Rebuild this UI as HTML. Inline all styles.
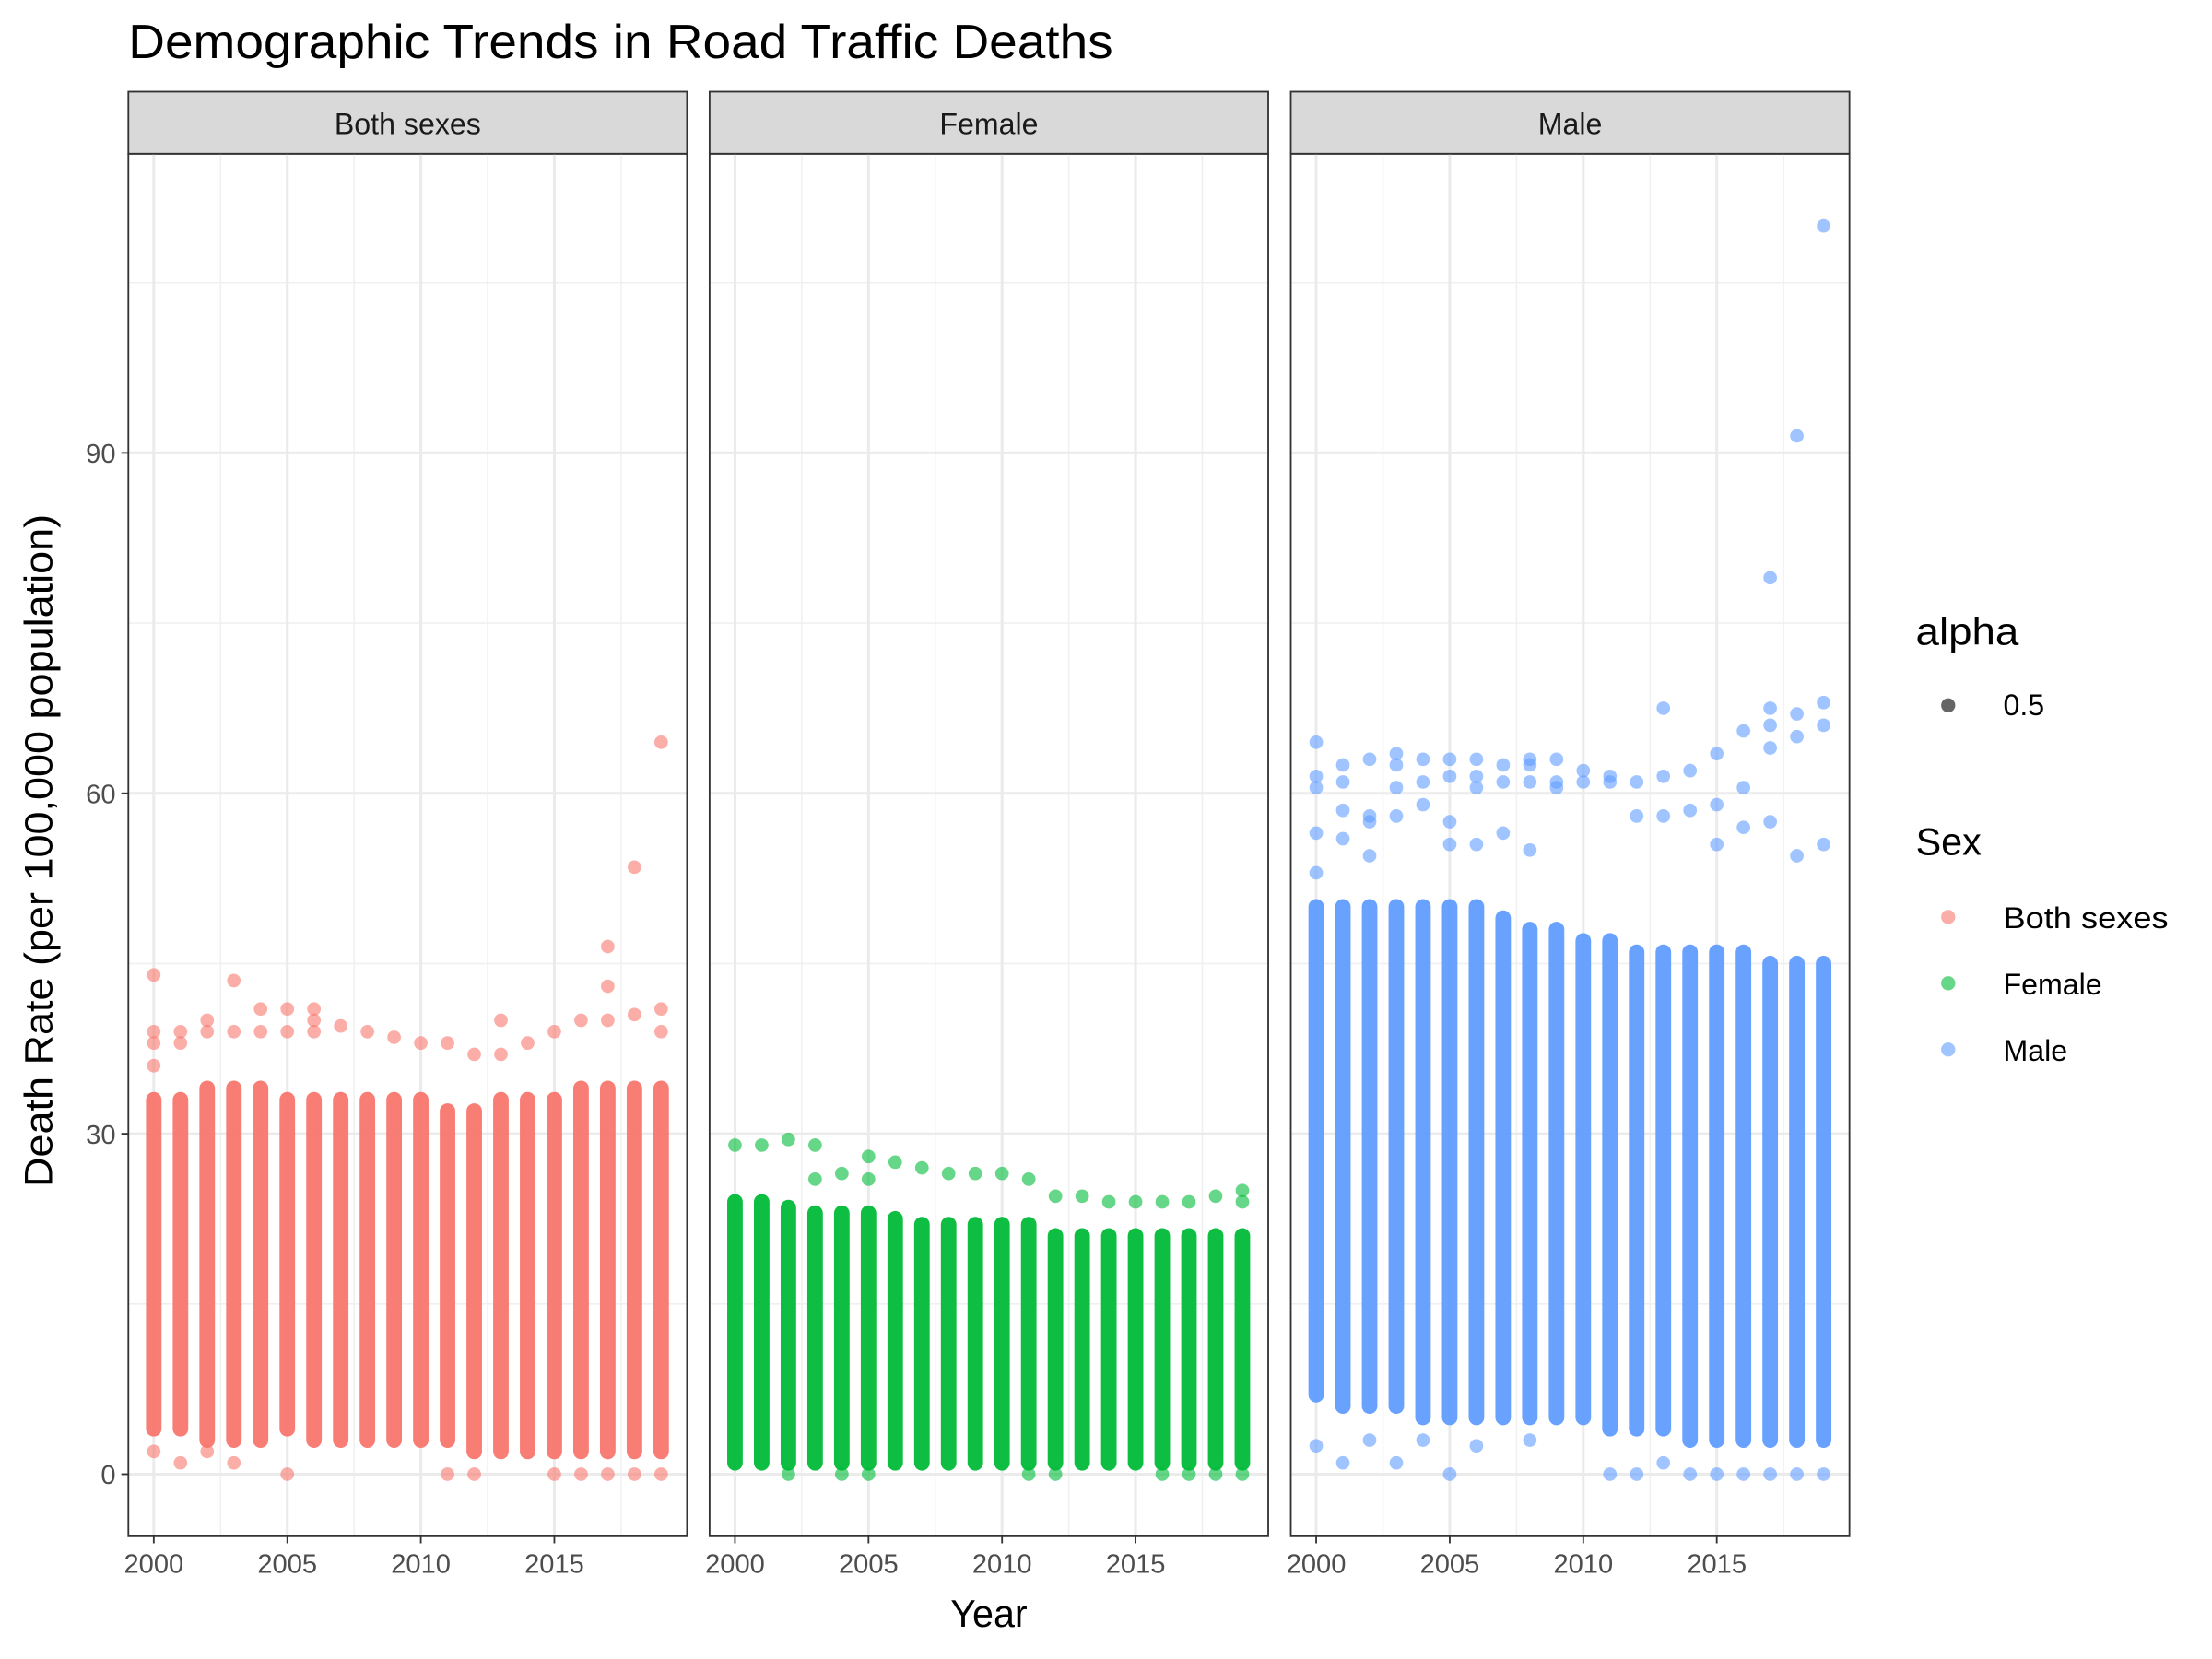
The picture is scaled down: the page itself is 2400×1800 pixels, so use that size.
<!DOCTYPE html>
<html><head><meta charset="utf-8"><style>
html,body{margin:0;padding:0;background:#fff}
svg{display:block;font-family:"Liberation Sans",Arial,sans-serif}
</style></head><body>
<svg id="chart" width="2400" height="1800" viewBox="0 0 1568 1176" xmlns="http://www.w3.org/2000/svg">
<rect width="1568" height="1176" fill="#fff"/>
<text x="91" y="41" font-size="34" fill="#000" textLength="698" lengthAdjust="spacingAndGlyphs">Demographic Trends in Road Traffic Deaths</text>
<text transform="translate(37,603) rotate(-90)" text-anchor="middle" font-size="28" fill="#000" textLength="477" lengthAdjust="spacingAndGlyphs">Death Rate (per 100,000 population)</text>
<text x="701" y="1153" text-anchor="middle" font-size="27" fill="#000">Year</text>
<g id="panels"></g>
<g>
<text x="1358" y="457" font-size="27" textLength="73" lengthAdjust="spacingAndGlyphs">alpha</text>
<circle cx="1381" cy="500" r="5" fill="#000" fill-opacity="0.6"/>
<text x="1420" y="507" font-size="21">0.5</text>
<text x="1358" y="606" font-size="27">Sex</text>
<circle cx="1381" cy="650" r="5" fill="#F8766D" fill-opacity="0.6"/>
<text x="1420" y="658" font-size="21" textLength="117" lengthAdjust="spacingAndGlyphs">Both sexes</text>
<circle cx="1381" cy="697" r="5" fill="#00BA38" fill-opacity="0.6"/>
<text x="1420" y="705" font-size="21">Female</text>
<circle cx="1381" cy="744" r="5" fill="#619CFF" fill-opacity="0.6"/>
<text x="1420" y="752" font-size="21">Male</text>
</g>
</svg>
<script>
const years=[2000,2001,2002,2003,2004,2005,2006,2007,2008,2009,2010,2011,2012,2013,2014,2015,2016,2017,2018,2019];
const panelNames=["Both sexes","Female","Male"];
const panelColors=["#F8766D","#00BA38","#619CFF"];
const yTicks=[0,30,60,90];
const xTicks=[2000,2005,2010,2015];
// dense column ranges
const bothLow=[4,4,3,3,3,4,3,3,3,3,3,3,2,2,2,2,2,2,2,2];
const bothHigh=[33,33,34,34,34,33,33,33,33,33,33,32,32,33,33,33,34,34,34,34];
const femLow=[1,1,1,1,1,1,1,1,1,1,1,1,1,1,1,1,1,1,1,1];
const femHigh=[24,24,23.5,23,23,23,22.5,22,22,22,22,22,21,21,21,21,21,21,21,21];
const maleLow=[7,6,6,6,5,5,5,5,5,5,5,4,4,4,3,3,3,3,3,3];
const maleHigh=[50,50,50,50,50,50,50,49,48,48,47,47,46,46,46,46,46,45,45,45];
// outliers [year, value]
const bothOut=[[2000,44],[2000,39],[2000,38],[2000,36],[2000,2],[2001,39],[2001,38],[2001,1],[2002,40],[2002,39],[2002,2],[2003,43.5],[2003,39],[2003,1],[2004,41],[2004,39],[2005,41],[2005,39],[2005,0],[2006,41],[2006,40],[2006,39],[2007,39.5],[2008,39],[2009,38.5],[2010,38],[2011,38],[2011,0],[2012,37],[2012,0],[2013,40],[2013,37],[2014,38],[2015,39],[2015,0],[2016,40],[2016,0],[2017,46.5],[2017,43],[2017,40],[2017,0],[2018,53.5],[2018,40.5],[2018,0],[2019,64.5],[2019,41],[2019,39],[2019,0]];
const femOut=[[2000,29],[2001,29],[2002,29.5],[2002,0],[2003,29],[2003,26],[2004,26.5],[2004,0],[2005,28],[2005,26],[2005,0],[2006,27.5],[2007,27],[2008,26.5],[2009,26.5],[2010,26.5],[2011,26],[2011,0],[2012,24.5],[2012,0],[2013,24.5],[2014,24],[2015,24],[2016,24],[2016,0],[2017,24],[2017,0],[2018,24.5],[2018,0],[2019,25],[2019,24],[2019,0]];
const maleOut=[[2000,64.5],[2000,61.5],[2000,60.5],[2000,56.5],[2000,53],[2000,2.5],[2001,62.5],[2001,61],[2001,58.5],[2001,56],[2001,1],[2002,63],[2002,58],[2002,57.5],[2002,54.5],[2002,3],[2003,63.5],[2003,62.5],[2003,60.5],[2003,58],[2003,1],[2004,63],[2004,61],[2004,59],[2004,3],[2005,63],[2005,61.5],[2005,57.5],[2005,55.5],[2005,0],[2006,63],[2006,61.5],[2006,60.5],[2006,55.5],[2006,2.5],[2007,62.5],[2007,61],[2007,56.5],[2008,63],[2008,62.5],[2008,61],[2008,55],[2008,3],[2009,63],[2009,61],[2009,60.5],[2010,62],[2010,61],[2011,61.5],[2011,61],[2011,0],[2012,61],[2012,58],[2012,0],[2013,67.5],[2013,61.5],[2013,58],[2013,1],[2014,62],[2014,58.5],[2014,0],[2015,63.5],[2015,59],[2015,55.5],[2015,0],[2016,65.5],[2016,60.5],[2016,57],[2016,0],[2017,79],[2017,67.5],[2017,66],[2017,64],[2017,57.5],[2017,0],[2018,91.5],[2018,67],[2018,65],[2018,54.5],[2018,0],[2019,110],[2019,68],[2019,66],[2019,55.5],[2019,0]];
const lows=[bothLow,femLow,maleLow], highs=[bothHigh,femHigh,maleHigh], outs=[bothOut,femOut,maleOut];

const NS="http://www.w3.org/2000/svg";
const panelLeft=[91,503,915], panelW=396, plotTop=109, plotBot=1089;
const yScale=v=>1045-v*8.044;
const xScale=(p,yr)=>panelLeft[p]+18+(yr-2000)*18.93;
const g=document.getElementById('panels');
function mk(tag,attrs,parent){const e=document.createElementNS(NS,tag);for(const k in attrs)e.setAttribute(k,attrs[k]);(parent||g).appendChild(e);return e;}
for(let p=0;p<3;p++){
  const pg=mk('g',{});
  
  
  const L=panelLeft[p];
  const strip=mk('rect',{x:L,y:65,width:panelW,height:44,fill:'#d9d9d9',stroke:'#333','stroke-width':1.2},pg);
  
  
  const st=mk('text',{x:L+panelW/2,y:95,'text-anchor':'middle','font-size':21,fill:'#1a1a1a'},pg);st.textContent=panelNames[p];
  
  
  [15,45,75,105].forEach(v=>mk('line',{x1:L,x2:L+panelW,y1:yScale(v),y2:yScale(v),stroke:'#f0f0f0','stroke-width':1},pg));
  [2002.5,2007.5,2012.5,2017.5].forEach(v=>mk('line',{x1:xScale(p,v),x2:xScale(p,v),y1:plotTop,y2:plotBot,stroke:'#f0f0f0','stroke-width':1},pg));
  yTicks.forEach(v=>mk('line',{x1:L,x2:L+panelW,y1:yScale(v),y2:yScale(v),stroke:'#ebebeb','stroke-width':2},pg));
  xTicks.forEach(v=>mk('line',{x1:xScale(p,v),x2:xScale(p,v),y1:plotTop,y2:plotBot,stroke:'#ebebeb','stroke-width':2},pg));
  const col=panelColors[p];
  years.forEach((yr,i)=>{
    const x=xScale(p,yr), y1=yScale(highs[p][i]), y2=yScale(lows[p][i]);
    const r=mk('rect',{x:x-5.5,y:y1-5.5,width:11,height:y2-y1+11,rx:5.5,fill:col,'fill-opacity':0.95},pg);
    
    
  });
  outs[p].forEach(d=>{
    const c=mk('circle',{cx:xScale(p,d[0]),cy:yScale(d[1]),r:4.8,fill:col,'fill-opacity':0.6},pg);
    
    
  });
  mk('rect',{x:L,y:plotTop,width:panelW,height:plotBot-plotTop,fill:'none',stroke:'#333','stroke-width':1.2},pg);
  xTicks.forEach(v=>{
    mk('line',{x1:xScale(p,v),x2:xScale(p,v),y1:plotBot,y2:plotBot+5,stroke:'#333','stroke-width':1.2},pg);
    const t=mk('text',{x:xScale(p,v),y:plotBot+26,'text-anchor':'middle','font-size':19,fill:'#4d4d4d'},pg);t.textContent=v;
    
    
  });
  if(p===0){
    yTicks.forEach(v=>{
      mk('line',{x1:L-5,x2:L,y1:yScale(v),y2:yScale(v),stroke:'#333','stroke-width':1.2},pg);
      const t=mk('text',{x:L-9,y:yScale(v)+7,'text-anchor':'end','font-size':19,fill:'#4d4d4d'},pg);t.textContent=v;
      
      
    });
  }
}
</script>
</body></html>
